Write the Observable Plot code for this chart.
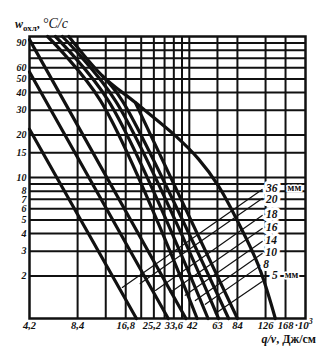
<!DOCTYPE html>
<html><head><meta charset="utf-8">
<script src="https://cdn.jsdelivr.net/npm/d3@7"></script>
<script src="https://cdn.jsdelivr.net/npm/@observablehq/plot@0.6"></script>
<style>body{margin:0;background:#fff}</style>
</head><body><div id="chart"></div>
<script>
const xTicks = [4.2, 8.4, 16.8, 25.2, 33.6, 42, 63, 84, 126, 168];
const xTickLabels = ["4,2","8,4","16,8","25,2","33,6","42","63","84","126","168"];
const xGrid = [8.4, 12.6, 16.8, 21, 25.2, 29.4, 33.6, 37.8, 42, 63, 84, 126, 168];
const yTicks = [2,3,4,5,6,7,8,10,15,20,30,40,50,60,90];
const yGrid = [2,3,4,5,6,7,8,9,10,15,20,30,40,50,60,70,80,90];

// thick lines: [q/v, w]
const line1 = [[4.2,22],[19.6,1]];
const line2 = [[4.2,56],[31,1]];
const line3 = [[4.2,95],[40,1]];
const line4 = [[5.45,100],[11.7,35],[47,1]];
const line5 = [[6.1,100],[13.1,35],[55,1]];
const line6 = [[6.75,100],[14.5,35],[64,1]];
const line7 = [[12,52.6],[16,35],[74,1]];
const line8 = [[19.3,34],[84,1]];
const curve3d = [[7.4,100],[12,52.6],[19.3,34],[34.3,19.8],[48,13.5],[64,8.7],[85,4.8],[114,2.36],[145,1]];

// thin thickness lines
const thinNames = ["36","20","18","16","14","10","8","5"];
const thinRight = [[120,8.22],[120,7.1],[120,5.38],[120,4.35],[120,3.52],[120,2.89],[120,2.42],[120,1.83]];
const thinLeft  = [[16,1.66],[20.7,1.77],[25.8,1.58],[31.9,1.53],[39.6,1.46],[45.8,1.34],[52.9,1.26],[61.1,1.085]];
const labelQ = [127,127,127,127,126,126,122,138];
const labelW = [8.4,7.05,5.47,4.42,3.57,2.94,2.42,2.04];
const unitQ = [173,166];
const unitW = [8.4,2.04];
const unitText = ["мм","мм"];

const thickSeries = [line1,line2,line3,line4,line5,line6,line7,line8,curve3d];
const thickData = thickSeries.flatMap((pts, s) => pts.map(([q,w]) => ({s, q, w})));
const thinData = thinNames.flatMap((n, i) => [thinLeft[i], thinRight[i]].map(([q,w]) => ({s:n, q, w})));
const labelData = thinNames.map((n,i) => ({t:n, q:labelQ[i], w:labelW[i]}));
const unitData = unitText.map((t,i) => ({t, q:unitQ[i], w:unitW[i]}));
const labelMap = new Map(xTicks.map((d,i)=>[d, xTickLabels[i]]));

const ink = "#111";
const xLab = {frameAnchor: "bottom", lineAnchor: "top", dy: 3, text: d => labelMap.get(d), fill: ink, fontSize: 10.5, letterSpacing: "-0.6px"};
const chart = Plot.plot({
  width: 332, height: 354,
  marginLeft: 29, marginRight: 27, marginTop: 36, marginBottom: 36,
  x: {type: "log", domain: [4.2, 224], axis: null},
  y: {type: "log", domain: [1, 100], axis: null},
  style: {fontFamily: "Liberation Serif", fontWeight: "bold", fontStyle: "italic", fontSize: "11px", color: ink, background: "#fff"},
  marks: [
    Plot.ruleX(xGrid, {stroke: ink, strokeWidth: 2}),
    Plot.ruleY(yGrid, {stroke: ink, strokeWidth: 2}),
    Plot.line(thinData, {x: "q", y: "w", z: "s", stroke: ink, strokeWidth: 1.2}),
    Plot.line(thickData, {x: "q", y: "w", z: "s", stroke: ink, strokeWidth: 3.2, curve: "catmull-rom"}),
    Plot.frame({stroke: ink, strokeWidth: 2.5}),
    Plot.text(labelData, {x: "q", y: "w", text: "t", textAnchor: "start", fill: ink, stroke: "#fff", strokeWidth: 6, fontSize: 11.5, paintOrder: "stroke"}),
    Plot.text(unitData, {x: "q", y: "w", text: "t", textAnchor: "start", fill: ink, stroke: "#fff", strokeWidth: 3, fontSize: 10, fontStyle: "normal", paintOrder: "stroke"}),
    Plot.text(xTicks.filter(d => d !== 25.2 && d !== 42), {x: d => d, ...xLab}),
    Plot.text([25.2], {x: d => d, ...xLab, dx: -2}),
    Plot.text([42], {x: d => d, ...xLab, dx: 3}),
    Plot.text(yTicks, {y: d => d, frameAnchor: "left", textAnchor: "end", dx: -3, text: d => String(d), fill: ink, fontSize: 10})
  ]
});
document.getElementById("chart").appendChild(chart);

const svg = d3.select(chart);
const yt = svg.append("text").attr("x", 15).attr("y", 28).attr("text-anchor", "start").attr("fill", ink)
  .style("font-family", "Liberation Serif").style("font-weight", "bold").style("font-style", "normal");
yt.append("tspan").text("w").style("font-style", "italic").style("font-size", "12px");
yt.append("tspan").text("охл").attr("dy", 3).style("font-size", "9px");
yt.append("tspan").text(", ").attr("dy", -3).style("font-size", "12px");
yt.append("tspan").text("°C/c").style("font-style", "italic").style("font-size", "14px").style("font-weight", "normal");

const xe = svg.append("text").attr("x", 295).attr("y", 329).attr("text-anchor", "start").attr("fill", ink)
  .style("font-family", "Liberation Serif").style("font-weight", "bold").style("font-style", "italic").style("font-size", "11px");
xe.append("tspan").text("·10");
xe.append("tspan").text("3").attr("dy", -5).style("font-size", "8px");

const xt = svg.append("text").attr("x", 316).attr("y", 343).attr("text-anchor", "end").attr("fill", ink)
  .style("font-family", "Liberation Serif").style("font-weight", "bold").style("font-style", "normal").style("font-size", "12px");
xt.append("tspan").text("q/v").style("font-style", "italic");
xt.append("tspan").text(", Дж/см");
</script>
</body></html>
